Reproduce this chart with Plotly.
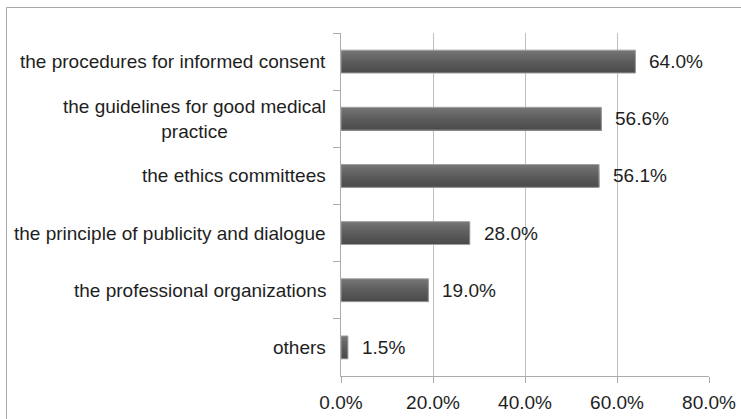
import plotly.graph_objects as go

# ---- data -------------------------------------------------------------
categories = [
    "the procedures for informed consent",
    "the guidelines for good medical<br>practice",
    "the ethics committees",
    "the principle of publicity and dialogue",
    "the professional organizations",
    "others",
]
values = [64.0, 56.6, 56.1, 28.0, 19.0, 1.5]
x_ticks = [0, 20, 40, 60, 80]
x_tick_labels = [f"{t:.1f}%" for t in x_ticks]

# ---- geometry / style -------------------------------------------------
W, H = 741, 419
ML, MR, MT, MB = 341, 32, 33, 43
PW, PH = W - ML - MR, H - MT - MB
FONT = "Liberation Sans, Arial, Helvetica, sans-serif"
TEXT = "#1e1e1e"
AXIS = "#ababab"
GRID = "#bfbfbf"
BAR_W = 0.4

# vertical shading of the bars: lighter on top, darker at the bottom
shades = ["#747474", "#707070", "#6b6b6b", "#676767", "#636363", "#5f5f5f",
          "#5b5b5b", "#585858", "#555555", "#525252", "#4f4f4f", "#4c4c4c"]

fig = go.Figure()
n = len(shades)
for k, col in enumerate(shades):
    # each strip starts a bit lower and runs to the bottom edge of the bar
    start = -BAR_W / 2 + k * BAR_W / n
    fig.add_trace(go.Bar(
        x=values, y=categories, orientation="h",
        width=BAR_W - k * BAR_W / n, offset=start,
        marker=dict(color=col, line=dict(width=0)),
        hoverinfo="skip", showlegend=False,
    ))
# thin light outline
fig.add_trace(go.Bar(
    x=values, y=categories, orientation="h",
    width=BAR_W, offset=-BAR_W / 2,
    marker=dict(color="rgba(0,0,0,0)", line=dict(color="#a0a0a0", width=1)),
    hovertemplate="%{y}: %{x:.1f}%<extra></extra>", showlegend=False,
))

annotations = []
for c, v in zip(categories, values):
    annotations.append(dict(
        x=0, y=c, xref="x", yref="y", xanchor="right", yanchor="middle",
        xshift=-13, text=c, align="center", showarrow=False,
        font=dict(family=FONT, size=19, color=TEXT),
    ))
    annotations.append(dict(
        x=v, y=c, xref="x", yref="y", xanchor="left", yanchor="middle",
        xshift=12, text=f"{v:.1f}%", showarrow=False,
        font=dict(family=FONT, size=19, color=TEXT),
    ))

# outer frame of the chart (right and bottom edges fall outside the page)
def px_x(p):
    return (p - ML) / PW


def px_y(p):
    return (H - MB - p) / PH


shapes = [dict(
    type="rect", xref="paper", yref="paper",
    x0=px_x(6.5), x1=px_x(W + 20), y0=px_y(H + 20), y1=px_y(7.5),
    line=dict(color="#a8a8a8", width=1), fillcolor="rgba(0,0,0,0)", layer="below",
)]

fig.update_layout(
    width=W, height=H,
    margin=dict(l=ML, r=MR, t=MT, b=MB, autoexpand=False),
    paper_bgcolor="white", plot_bgcolor="white",
    barmode="overlay",
    font=dict(family=FONT, size=19, color=TEXT),
    annotations=annotations,
    shapes=shapes,
    xaxis=dict(
        range=[0, 80], tickvals=x_ticks, ticktext=x_tick_labels,
        showgrid=True, gridcolor=GRID, gridwidth=1,
        zeroline=False, showline=True, linecolor=AXIS, linewidth=1,
        ticks="outside", ticklen=6, tickcolor=AXIS, ticklabelstandoff=3,
        tickfont=dict(family=FONT, size=19, color=TEXT),
        automargin=False, fixedrange=True,
    ),
    yaxis=dict(
        type="category", autorange="reversed",
        showgrid=False, zeroline=False,
        showline=True, linecolor=AXIS, linewidth=1,
        ticks="outside", ticklen=7, tickcolor=AXIS, tickson="boundaries",
        showticklabels=False, automargin=False, fixedrange=True,
    ),
)

fig.write_html("out.html")
